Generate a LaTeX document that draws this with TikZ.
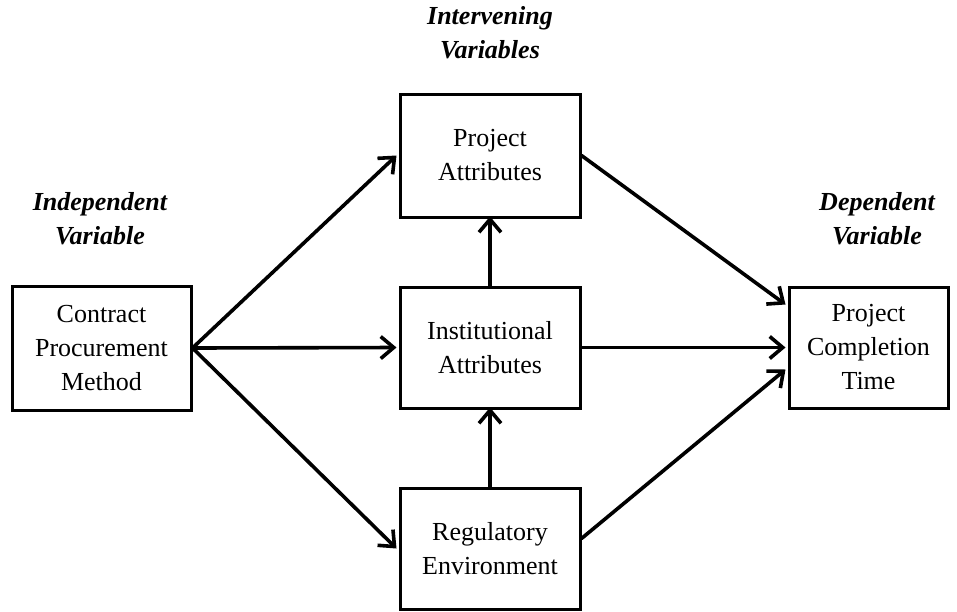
\documentclass[tikz,border=0pt]{standalone}
\usepackage{fontspec}
\setmainfont{Liberation Serif}
\usetikzlibrary{arrows.meta}
\begin{document}
\begin{tikzpicture}[x=1pt,y=-1pt,
  box/.style={draw, line width=3pt, rectangle, align=center, inner sep=0pt,
              font=\fontsize{26}{34}\selectfont},
  heading/.style={align=center, inner sep=0pt,
              font=\fontsize{26}{34}\selectfont\bfseries\itshape},
  link/.style={line width=3.6pt, line cap=round,
              -{Straight Barb[length=13pt,width=22pt,line width=3.6pt]}}]
  \useasboundingbox (0,0) rectangle (957,611);

  % boxes
  \node[box, minimum width=179pt, minimum height=124pt] (cpm) at (101.5,348) {Contract\\Procurement\\Method};
  \node[box, minimum width=180pt, minimum height=123pt] (pa) at (490,155.5) {Project\\Attributes};
  \node[box, minimum width=180pt, minimum height=121pt] (ia) at (490,347.5) {Institutional\\Attributes};
  \node[box, minimum width=180pt, minimum height=121pt] (re) at (490,548.5) {Regulatory\\Environment};
  \node[box, minimum width=159pt, minimum height=121pt] (pct) at (868.5,347.5) {Project\\Completion\\Time};

  % headings
  \node[heading] (hint) at (490,33) {Intervening\\Variables};
  \node[heading] (hind) at (100,219) {Independent\\Variable};
  \node[heading] (hdep) at (877,219) {Dependent\\Variable};

  % connectors
  \draw[link] (cpm.east) -- ([xshift=-2pt]pa.west);
  \draw[link] (cpm.east) -- ([xshift=-2pt]ia.west);
  \draw[link] (cpm.east) -- ([xshift=-2pt]re.west);
  \draw[link] (ia.north) -- ([yshift=2pt]pa.south);
  \draw[link] (re.north) -- ([yshift=2pt]ia.south);
  \draw[link] (pa.east) -- ([xshift=-2pt,yshift=43pt]pct.west);
  \draw[link] (ia.east) -- ([xshift=-2pt]pct.west);
  \draw[link] ([yshift=10pt]re.east) -- ([xshift=-2pt,yshift=-22pt]pct.west);
\end{tikzpicture}
\end{document}
